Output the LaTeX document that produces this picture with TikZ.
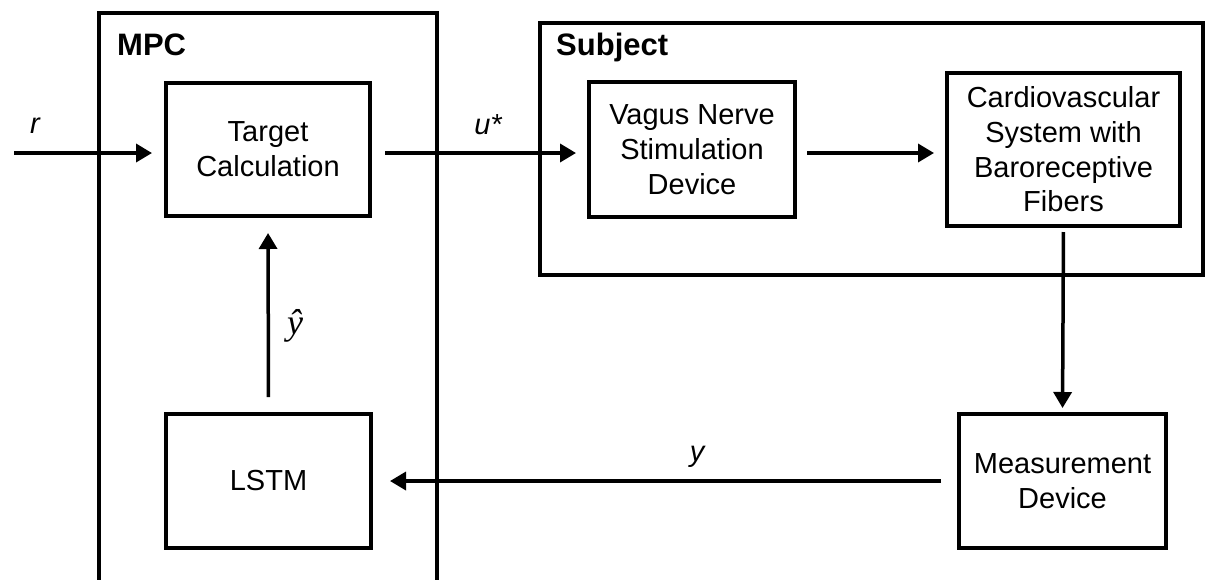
\documentclass[tikz,border=0pt]{standalone}
\usepackage{fontspec}
\setmainfont{Liberation Sans}
\newfontfamily\lbserif{Liberation Serif}
\usetikzlibrary{arrows.meta}
\begin{document}
\begin{tikzpicture}[x=1pt,y=-1pt,
  blockbox/.style={draw,line width=4pt,inner sep=0pt,align=center,font=\fontsize{29}{34.7}\selectfont},
  groupbox/.style={draw,line width=4pt},
  grouptitle/.style={anchor=base west,font=\fontsize{31}{36}\selectfont\bfseries,inner sep=0pt},
  sig/.style={font=\fontsize{29}{34}\selectfont\itshape,inner sep=0pt},
  arr/.style={line width=3.5pt,-{Triangle[length=16pt,width=18pt]}}]
\useasboundingbox (0,0) rectangle (1209,579);
% group boxes
\draw[groupbox] (99,13) rectangle (437,600);
\draw[groupbox] (540,23) rectangle (1203,275);
\node[grouptitle] (mpct) at (117,55) {MPC};
\node[grouptitle] (subjt) at (556,55) {Subject};
% blocks
\node[blockbox,minimum width=204pt,minimum height=133pt] (tc) at (268,149.5) {Target\\Calculation};
\node[blockbox,minimum width=206pt,minimum height=135pt] (vns) at (692,149.5) {Vagus Nerve\\Stimulation\\Device};
\node[blockbox,minimum width=233pt,minimum height=153pt] (cvs) at (1063.5,149.5) {Cardiovascular\\System with\\Baroreceptive\\Fibers};
\node[blockbox,minimum width=205pt,minimum height=134pt] (lstm) at (268.5,481) {LSTM};
\node[blockbox,minimum width=207pt,minimum height=134pt] (md) at (1062.5,481) {Measurement\\Device};
% connectors
\coordinate (rin) at (14,153);
\draw[arr,shorten >=12pt] (rin) -- (rin -| tc.west);
\draw[arr,shorten <=13pt,shorten >=11pt] (tc.east |- rin) -- (vns.west |- rin);
\draw[arr,shorten <=10pt,shorten >=11pt] (vns.east |- rin) -- (cvs.west |- rin);
\draw[arr,shorten <=4pt,shorten >=4pt] (cvs.south) -- (md.north);
\draw[arr,shorten <=16pt,shorten >=17pt] (md.west) -- (lstm.east);
\draw[arr,shorten <=15pt,shorten >=15pt] (lstm.north) -- (tc.south);
% signal labels
\node[sig] (lr) at (35,126) {r};
\node[sig] (lu) at (488,125) {u*};
\node[sig] (ly) at (697,457) {y};
\node[font=\fontsize{36}{40}\selectfont\lbserif\itshape,inner sep=0pt] (lyh) at (295,326) {ŷ};
\end{tikzpicture}
\end{document}
